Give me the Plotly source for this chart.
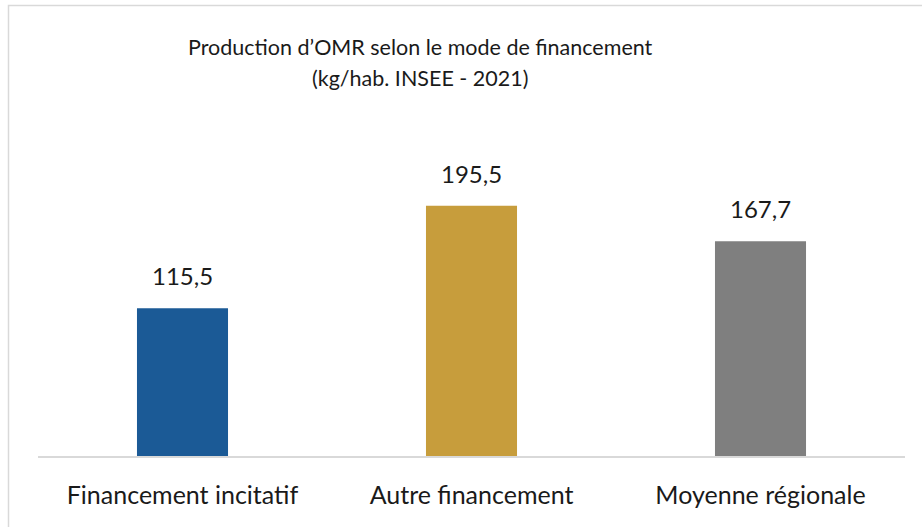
import plotly.graph_objects as go

categories = ["Financement incitatif", "Autre financement", "Moyenne régionale"]
values = [115.5, 195.5, 167.7]
colors = ["#1b5a96", "#c79d3c", "#7f7f7f"]
title_lines = ["Production d’OMR selon le mode de financement", "(kg/hab. INSEE - 2021)"]

FONT = "Lato, 'Open Sans', sans-serif"
TXT = "#1a1a1a"

fig = go.Figure(go.Bar(
    x=categories, y=values,
    marker=dict(color=colors, line=dict(width=0)),
    width=0.315, hoverinfo="x+y",
))

L, R, T, B = 38, 17, 136, 71
W, H = 922, 527
pw, ph = W - L - R, H - T - B

def px(x):
    return (x - L) / pw

def py(y):
    return (H - B - y) / ph

annotations = [
    dict(x=c, y=v, xref="x", yref="y", text=f"{v:.1f}".replace(".", ","),
         showarrow=False, xanchor="center", yanchor="bottom", yshift=16,
         font=dict(size=24, family=FONT, color=TXT))
    for c, v in zip(categories, values)
]
annotations += [
    dict(text=title_lines[0], x=px(420), y=py(47), xref="paper", yref="paper",
         showarrow=False, xanchor="center", yanchor="middle",
         font=dict(size=21.5, family=FONT, color=TXT)),
    dict(text=title_lines[1], x=px(420), y=py(78), xref="paper", yref="paper",
         showarrow=False, xanchor="center", yanchor="middle",
         font=dict(size=21.5, family=FONT, color=TXT)),
]

fig.update_layout(
    width=W, height=H,
    margin=dict(l=L, r=R, t=T, b=B, pad=0),
    paper_bgcolor="white", plot_bgcolor="white",
    showlegend=False,
    font=dict(family=FONT, color=TXT),
    xaxis=dict(showline=True, linecolor="#d9d9d9", linewidth=1.5, ticks="",
               tickfont=dict(size=25, family=FONT, color=TXT),
               ticklabelstandoff=16, showgrid=False),
    yaxis=dict(visible=False, range=[0, 250], showgrid=False, zeroline=False),
    shapes=[dict(type="rect", xref="paper", yref="paper",
                 x0=px(8.5), x1=px(940), y0=py(540), y1=py(5.5),
                 line=dict(color="#d9d9d9", width=1.5), fillcolor="rgba(0,0,0,0)", layer="below")],
    annotations=annotations,
)

fig.write_html("out.html", config={"displayModeBar": False},
               post_script="document.body.style.margin='0';document.body.style.overflow='hidden';")
